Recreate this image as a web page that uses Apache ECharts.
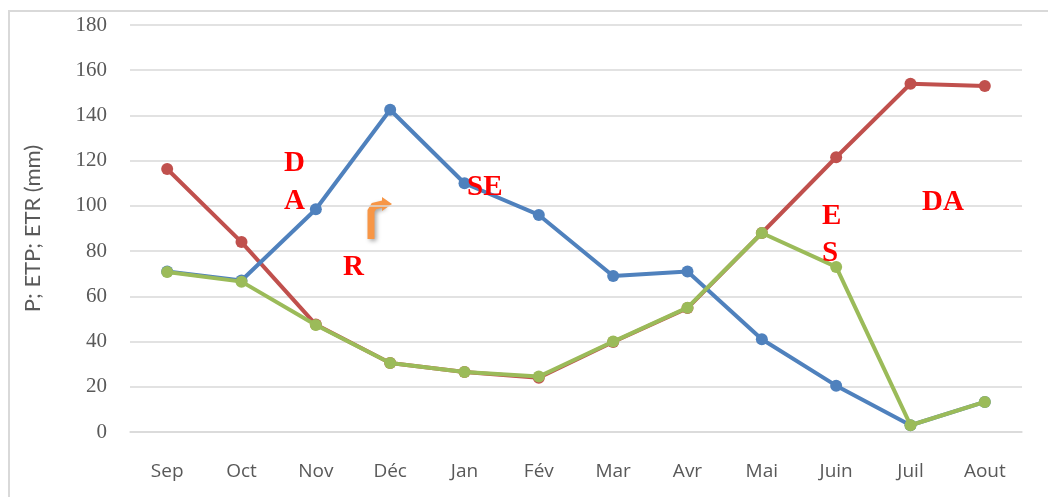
<!DOCTYPE html>
<html>
<head>
<meta charset="utf-8">
<script src="https://cdn.jsdelivr.net/npm/echarts@6/dist/echarts.min.js"></script>
<style>
  html, body { margin: 0; padding: 0; background: #fff; }
  #chart { width: 1048px; height: 497px; }
</style>
</head>
<body>
<div id="chart"></div>
<script>
var months = ['Sep', 'Oct', 'Nov', 'Déc', 'Jan', 'Fév', 'Mar', 'Avr', 'Mai', 'Juin', 'Juil', 'Aout'];
var P   = [71, 67, 98.5, 142.5, 110, 96, 69, 71, 41, 20.5, 3, 13.3];
var ETP = [116.3, 84, 47.5, 30.5, 26.5, 24, 39.8, 54.8, 88, 121.5, 154, 153];
var ETR = [70.8, 66.5, 47.3, 30.5, 26.5, 24.5, 40, 55, 88, 73, 3, 13.3];

var myChart = echarts.init(document.getElementById('chart'));

function line(name, data, color, z) {
  return {
    name: name,
    type: 'line',
    data: data,
    z: z,
    symbol: 'circle',
    symbolSize: 12,
    lineStyle: { color: color, width: 4 },
    itemStyle: { color: color },
    animation: false
  };
}

var red = '#ff0000';
var lbl = { fill: red, font: 'bold 29px "Liberation Serif", "DejaVu Serif", serif' };
function txt(x, y, s) {
  return { type: 'text', left: x, top: y, style: Object.assign({ text: s }, lbl), z: 100 };
}

var option = {
  backgroundColor: '#fff',
  grid: { left: 130, right: 26, top: 25, bottom: 65 },
  xAxis: {
    type: 'category',
    data: months,
    boundaryGap: true,
    axisLine: { lineStyle: { color: '#d9d9d9', width: 1.5 } },
    axisTick: { show: false },
    axisLabel: { color: '#595959', fontSize: 19, margin: 30, fontFamily: '"Liberation Sans Narrow", "Open Sans", sans-serif' }
  },
  yAxis: {
    type: 'value',
    min: 0, max: 180, interval: 20,
    name: 'P; ETP; ETR (mm)',
    nameLocation: 'middle',
    nameGap: 86,
    nameTextStyle: { color: '#595959', fontSize: 22, fontFamily: 'Lato, "Open Sans", sans-serif' },
    axisLine: { show: false },
    axisTick: { show: false },
    axisLabel: { color: '#595959', fontSize: 21, margin: 23, fontFamily: '"Liberation Serif", "DejaVu Serif", serif' },
    splitLine: { lineStyle: { color: '#d9d9d9', width: 1.5 } }
  },
  series: [
    line('ETP', ETP, '#c0504d', 2),
    line('P', P, '#4f81bd', 3),
    line('ETR', ETR, '#9bbb59', 4)
  ],
  graphic: [
    { type: 'polyline', shape: { points: [[9, 497], [9, 11], [1048, 11]] }, style: { stroke: '#d9d9d9', lineWidth: 2, fill: null }, z: 0 },
    txt(284, 149, 'D'),
    txt(284, 187, 'A'),
    txt(343, 253, 'R'),
    txt(467, 173, 'SE'),
    txt(822, 202, 'E'),
    txt(822, 239, 'S'),
    txt(922, 188, 'DA'),
    {
      type: 'group', z: 100,
      children: [
        { type: 'polyline', shape: { points: [[371, 239], [371, 211], [374, 206], [383, 204]] },
          style: { stroke: '#f79646', lineWidth: 7, fill: null,
                   shadowBlur: 4, shadowColor: 'rgba(0,0,0,0.35)', shadowOffsetX: 2, shadowOffsetY: 2 } },
        { type: 'polygon', shape: { points: [[382, 197], [392, 204], [382, 211]] },
          style: { fill: '#f79646' } }
      ]
    }
  ]
};

myChart.setOption(option);
</script>
</body>
</html>
